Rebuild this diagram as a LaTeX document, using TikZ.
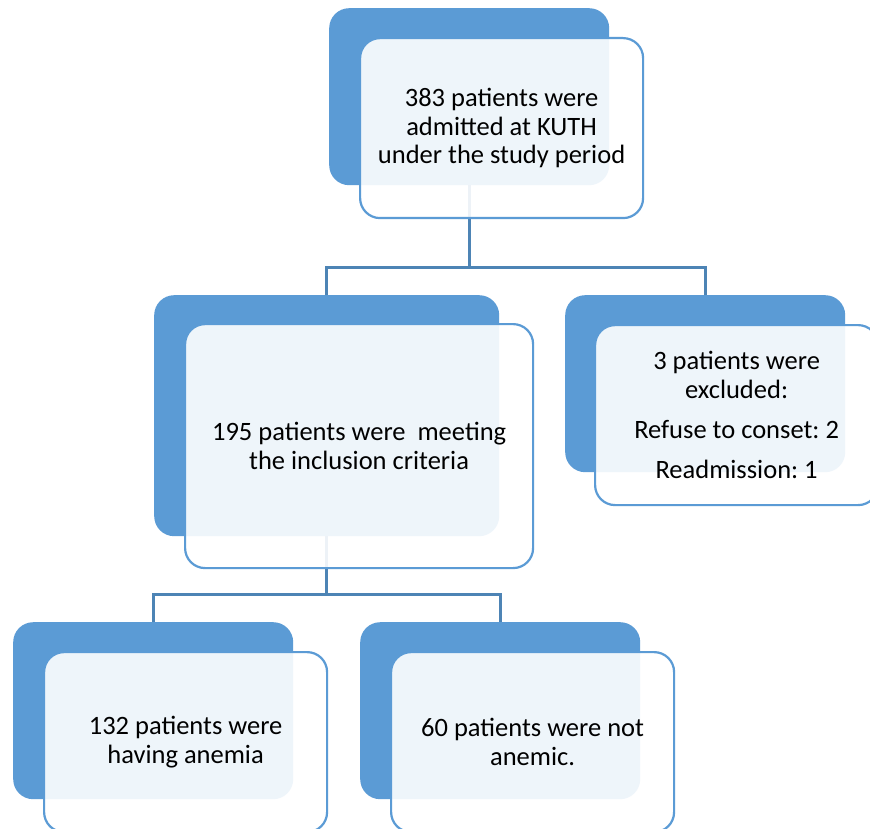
\documentclass[tikz,border=0pt]{standalone}
\usepackage{fontspec}
\setmainfont{Carlito}
\frenchspacing
\definecolor{accent}{HTML}{5B9BD5}
\definecolor{conncol}{HTML}{4D84B5}
\begin{document}
\begin{tikzpicture}[x=1pt,y=-1pt,
  backbox/.style={draw=none, fill=accent, rounded corners=20pt, anchor=north west, inner sep=0pt},
  frontbox/.style={draw=accent, line width=2.2pt, fill=white, fill opacity=0.9, text opacity=1,
    rounded corners=20pt, anchor=north west, inner sep=0pt, align=center,
    font=\fontsize{26.5pt}{28.5pt}\selectfont},
  conn/.style={draw=conncol, line width=3pt}]
\clip (0,0) rectangle (870,829);
\fill[white] (0,0) rectangle (870,829);
% back boxes
\node[backbox, minimum width=280pt, minimum height=177pt] (b1) at (329,8) {};
\node[backbox, minimum width=345pt, minimum height=241pt] (b2) at (154,295) {};
\node[backbox, minimum width=280pt, minimum height=177pt] (b3) at (565,295) {};
\node[backbox, minimum width=280pt, minimum height=177pt] (b4) at (13,622) {};
\node[backbox, minimum width=280pt, minimum height=177pt] (b5) at (360,622) {};
% connectors
\draw[conn] (b1.south) -- (b1.south |- 0,267) coordinate (j1);
\draw[conn] (b2.north) |- (j1) -| (b3.north);
\draw[conn] (b2.south) -- (b2.south |- 0,594) coordinate (j2);
\draw[conn] (b4.north) |- (j2) -| (b5.north);
% front boxes
\node[frontbox, minimum width=283pt, minimum height=180pt] (f1) at (359,37)
  {383 patients were\\admitted at KUTH\\under the study period};
\node[frontbox, minimum width=348pt, minimum height=244pt] (f2) at (184,323)
  {195 patients were\ \ meeting\\the inclusion criteria};
\node[frontbox, minimum width=283pt, minimum height=180pt] (f3) at (594,324)
  {3 patients were\\excluded:\\[12pt]Refuse to conset: 2\\[11pt]Readmission: 1};
\node[frontbox, minimum width=283pt, minimum height=180pt] (f4) at (43,651)
  {132 patients were\\having anemia};
\node[frontbox, minimum width=283pt, minimum height=180pt] (f5) at (390,651)
  {60 patients were not\\anemic.};
\end{tikzpicture}
\end{document}
